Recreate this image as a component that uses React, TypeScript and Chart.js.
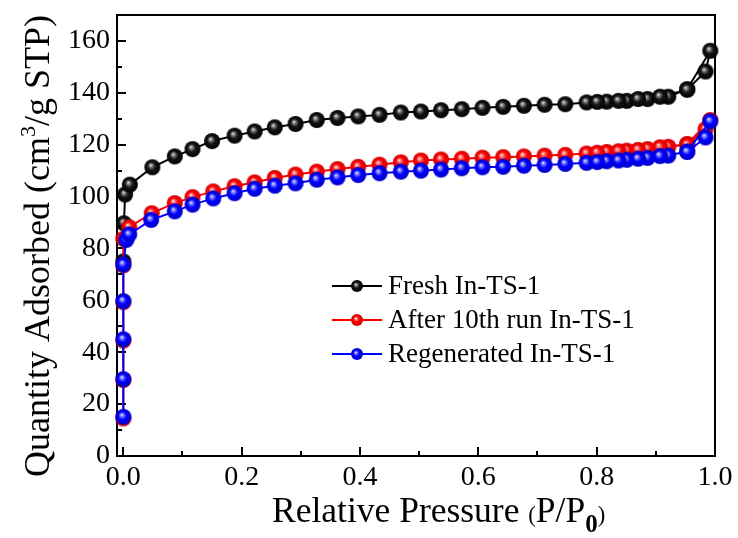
import React, { useEffect, useRef } from "react";
import { Chart, registerables } from "chart.js";

Chart.register(...registerables);

// ---------- data (relative pressure P/P0, quantity adsorbed cm3/g STP) ----------
const freshP = [0.0, 0.001, 0.003, 0.011, 0.049, 0.087, 0.117, 0.150, 0.188, 0.222, 0.256, 0.291, 0.327, 0.362, 0.397, 0.433, 0.469, 0.503, 0.537, 0.572, 0.607, 0.642, 0.677, 0.712, 0.747, 0.783, 0.817, 0.851, 0.886, 0.921, 0.953, 0.992];
const freshV = [75, 89.7, 100.8, 104.6, 111.3, 115.5, 118.3, 121.4, 123.5, 125.1, 126.7, 128, 129.5, 130.3, 130.9, 131.5, 132.4, 132.8, 133.3, 133.7, 134.2, 134.6, 135, 135.4, 135.6, 136.3, 136.6, 136.9, 137.6, 138.5, 141.4, 156.2];
const freshDesP = [0.984, 0.953, 0.907, 0.870, 0.837, 0.801];
const freshDesV = [148.2, 141.2, 138.5, 137.6, 136.9, 136.5];

const afterP = [0, 0, 0, 0, 0, 0, 0.010, 0.048, 0.087, 0.117, 0.152, 0.188, 0.222, 0.256, 0.291, 0.327, 0.362, 0.397, 0.433, 0.469, 0.503, 0.537, 0.572, 0.607, 0.642, 0.677, 0.712, 0.747, 0.783, 0.817, 0.851, 0.886, 0.921, 0.953, 0.992];
const afterV = [14.5, 29.3, 44.5, 59.3, 73.5, 83.7, 88.2, 93.6, 97.5, 99.8, 102, 104, 105.5, 107.2, 108.5, 109.6, 110.6, 111.5, 112.3, 113.2, 113.9, 114.3, 114.6, 115, 115.2, 115.5, 115.8, 116.1, 116.6, 117.2, 117.7, 118.3, 119.2, 120.3, 129.5];
const afterDesP = [0.984, 0.953, 0.907, 0.870, 0.837, 0.801];
const afterDesV = [126, 120.0, 119.0, 118.0, 117.5, 116.9];

const regenP = [0, 0, 0, 0, 0, 0.005, 0.010, 0.047, 0.087, 0.117, 0.152, 0.188, 0.222, 0.256, 0.291, 0.327, 0.362, 0.397, 0.433, 0.469, 0.503, 0.537, 0.572, 0.607, 0.642, 0.677, 0.712, 0.747, 0.783, 0.817, 0.851, 0.886, 0.921, 0.953, 0.992];
const regenV = [15.1, 29.6, 45, 59.7, 73.8, 83.3, 85.4, 91, 94.3, 96.9, 99.3, 101.3, 103, 104.2, 105.1, 106.5, 107.4, 108.3, 109, 109.6, 110, 110.4, 110.9, 111.3, 111.5, 111.9, 112.2, 112.6, 113, 113.6, 114.2, 114.9, 115.8, 117.4, 129];
const regenDesP = [0.984, 0.953, 0.907, 0.870, 0.837, 0.801];
const regenDesV = [122.8, 117.2, 115.6, 114.6, 113.9, 113.3];

const seriesNames = ["Fresh In-TS-1", "After 10th run In-TS-1", "Regenerated In-TS-1"];

const xMajorTicks = [0, 0.2, 0.4, 0.6, 0.8, 1.0];
const xMinorTicks = [0.1, 0.3, 0.5, 0.7, 0.9];
const yMajorTicks = [0, 20, 40, 60, 80, 100, 120, 140, 160];
const yMinorTicks = [10, 30, 50, 70, 90, 110, 130, 150];

// ---------- styling ----------
const SERIF = '"Liberation Serif", "DejaVu Serif", serif';
const colors = [
  { line: "#000000", hi: "#ffffff", mid: "#8a8a8a", base: "#151515", edge: "#000000" },
  { line: "#ff0000", hi: "#ffffff", mid: "#ff8a8a", base: "#ff0000", edge: "#d00000" },
  { line: "#0000ff", hi: "#ffffff", mid: "#8a8aff", base: "#0000ff", edge: "#0000c8" },
];

function makeSphere(d: number, c: typeof colors[number]) {
  const cv = document.createElement("canvas");
  cv.width = d + 2;
  cv.height = d + 2;
  const ctx = cv.getContext("2d")!;
  const r = d / 2;
  const cx = cv.width / 2;
  const cy = cv.height / 2;
  const g = ctx.createRadialGradient(cx - r * 0.22, cy - r * 0.28, 0, cx, cy, r);
  g.addColorStop(0, c.hi);
  g.addColorStop(0.18, c.mid);
  g.addColorStop(0.5, c.base);
  g.addColorStop(1, c.edge);
  ctx.fillStyle = g;
  ctx.beginPath();
  ctx.arc(cx, cy, r, 0, Math.PI * 2);
  ctx.fill();
  return cv;
}

function pts(p: number[], v: number[], dp: number[], dv: number[]) {
  const a = p.map((x, i) => ({ x, y: v[i] }));
  const b = dp.map((x, i) => ({ x, y: dv[i] }));
  return a.concat(b);
}

export default function App() {
  const ref = useRef<HTMLCanvasElement>(null);

  useEffect(() => {
    let chart: Chart | null = null;
    let cancelled = false;

    const build = () => {
      if (cancelled || !ref.current) return;
      const canvas = ref.current;
      const spheres = colors.map((c) => makeSphere(16, c));
      const legendSpheres = colors.map((c) => makeSphere(12, c));

      const decor = {
        id: "decor",
        beforeDatasetsDraw(ch: any) {
          const { ctx, chartArea: a, scales } = ch;
          const xs = scales.x;
          const ys = scales.y;
          ctx.save();
          ctx.strokeStyle = "#000";
          ctx.lineWidth = 2;
          ctx.strokeRect(a.left, a.top, a.right - a.left, a.bottom - a.top);
          ctx.beginPath();
          yMajorTicks.forEach((v) => {
            const y = Math.round(ys.getPixelForValue(v));
            ctx.moveTo(a.left, y);
            ctx.lineTo(a.left + 9, y);
          });
          yMinorTicks.forEach((v) => {
            const y = Math.round(ys.getPixelForValue(v));
            ctx.moveTo(a.left, y);
            ctx.lineTo(a.left + 5, y);
          });
          xMajorTicks.forEach((v) => {
            const x = Math.round(xs.getPixelForValue(v));
            ctx.moveTo(x, a.bottom);
            ctx.lineTo(x, a.bottom - 9);
          });
          xMinorTicks.forEach((v) => {
            const x = Math.round(xs.getPixelForValue(v));
            ctx.moveTo(x, a.bottom);
            ctx.lineTo(x, a.bottom - 5);
          });
          ctx.stroke();
          ctx.restore();
        },
        afterDraw(ch: any) {
          const { ctx } = ch;
          ctx.save();
          ctx.fillStyle = "#000";
          ctx.textBaseline = "alphabetic";
          ctx.textAlign = "left";

          // x-axis title
          const parts: [string, string, number][] = [
            ["Relative Pressure ", `35.5px ${SERIF}`, 0],
            ["(", `22.5px ${SERIF}`, 0],
            ["P/P", `35.5px ${SERIF}`, 0],
            ["0", `bold 25px ${SERIF}`, 10],
            [")", `22.5px ${SERIF}`, 0],
          ];
          let x = 272;
          const base = 522;
          parts.forEach(([t, f, dy]) => {
            ctx.font = f;
            ctx.fillText(t, x, base + dy);
            x += ctx.measureText(t).width;
          });

          // y-axis title (rotated)
          const yParts: [string, string, number][] = [
            ["Quantity Adsorbed (cm", `36px ${SERIF}`, 0],
            ["3", `22px ${SERIF}`, -14],
            ["/g STP)", `36px ${SERIF}`, 0],
          ];
          let total = 0;
          yParts.forEach(([t, f]) => {
            ctx.font = f;
            total += ctx.measureText(t).width;
          });
          ctx.translate(49, 246);
          ctx.rotate(-Math.PI / 2);
          let tx = -total / 2;
          yParts.forEach(([t, f, dy]) => {
            ctx.font = f;
            ctx.fillText(t, tx, dy);
            tx += ctx.measureText(t).width;
          });
          ctx.setTransform(1, 0, 0, 1, 0, 0);

          // legend
          const rows = [286, 320, 354];
          ctx.font = `27px ${SERIF}`;
          ctx.textBaseline = "middle";
          seriesNames.forEach((name, i) => {
            const y = rows[i];
            ctx.strokeStyle = colors[i].line;
            ctx.lineWidth = 2;
            ctx.beginPath();
            ctx.moveTo(332, y);
            ctx.lineTo(382, y);
            ctx.stroke();
            const s = legendSpheres[i];
            ctx.drawImage(s, 357 - s.width / 2, y - s.height / 2);
            ctx.fillStyle = "#000";
            ctx.fillText(name, 388, y + 1);
          });
          ctx.restore();
        },
      };

      const mk = (i: number, data: { x: number; y: number }[], order: number) => ({
        label: seriesNames[i],
        data,
        borderColor: colors[i].line,
        backgroundColor: colors[i].line,
        borderWidth: 2,
        pointStyle: spheres[i],
        pointRadius: 8,
        pointHoverRadius: 8,
        showLine: true,
        tension: 0,
        clip: false as any,
        order,
      });

      const zeroPad = (s: any) => {
        s.paddingTop = 0;
        s.paddingBottom = 0;
        s.paddingLeft = 0;
        s.paddingRight = 0;
      };

      chart = new Chart(canvas, {
        type: "line",
        data: {
          datasets: [
            mk(0, pts(freshP, freshV, freshDesP, freshDesV), 3),
            mk(1, pts(afterP, afterV, afterDesP, afterDesV), 2),
            mk(2, pts(regenP, regenV, regenDesP, regenDesV), 1),
          ],
        },
        options: {
          animation: false,
          responsive: false,
          devicePixelRatio: 1,
          events: [],
          layout: { autoPadding: false, padding: { left: 0, top: 15, right: 23, bottom: 0 } } as any,
          plugins: { legend: { display: false }, tooltip: { enabled: false }, title: { display: false } },
          scales: {
            x: {
              type: "linear",
              min: -0.0107,
              max: 1.0,
              grid: { display: false, drawTicks: false },
              border: { display: false },
              afterBuildTicks: (s: any) => {
                s.ticks = xMajorTicks.map((v) => ({ value: v }));
              },
              afterFit: (s: any) => {
                s.height = 82;
                zeroPad(s);
              },
              ticks: {
                color: "#000",
                padding: 5,
                maxRotation: 0,
                autoSkip: false,
                font: { family: SERIF, size: 28 },
                callback: (v: any) => Number(v).toFixed(1),
              },
            },
            y: {
              type: "linear",
              min: 0,
              max: 170,
              grid: { display: false, drawTicks: false },
              border: { display: false },
              afterBuildTicks: (s: any) => {
                s.ticks = yMajorTicks.map((v) => ({ value: v }));
              },
              afterFit: (s: any) => {
                s.width = 117;
                zeroPad(s);
              },
              ticks: {
                color: "#000",
                padding: 7,
                autoSkip: false,
                font: { family: SERIF, size: 28 },
                callback: (v: any) => String(v),
              },
            },
          },
        },
        plugins: [decor],
      });
    };

    const fonts: any = (document as any).fonts;
    if (fonts && fonts.load) {
      Promise.all([
        fonts.load('28px "Liberation Serif"'),
        fonts.load('bold 28px "Liberation Serif"'),
      ])
        .catch(() => null)
        .then(() => build());
    } else {
      build();
    }

    return () => {
      cancelled = true;
      if (chart) chart.destroy();
    };
  }, []);

  return (
    <div style={{ position: "fixed", left: 0, top: 0, width: 738, height: 538, background: "#fff" }}>
      <canvas ref={ref} width={738} height={538} style={{ display: "block", width: 738, height: 538 }} />
    </div>
  );
}
